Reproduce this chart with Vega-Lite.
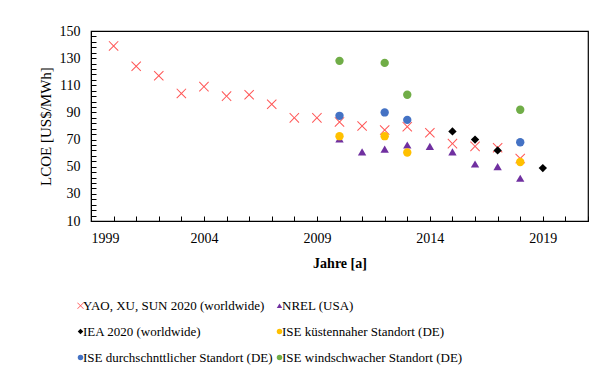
{
  "$schema": "https://vega.github.io/schema/vega-lite/v6.json",
  "autosize": {"type": "none"},
  "padding": {"left": 91, "top": 31, "right": 21, "bottom": 153},
  "width": 497,
  "height": 190,
  "background": "white",
  "config": {
    "view": {"stroke": "black", "strokeWidth": 1.2},
    "font": "Liberation Serif",
    "axis": {
      "labelFont": "Liberation Serif",
      "labelFontSize": 14,
      "labelColor": "black",
      "titleFont": "Liberation Serif",
      "titleColor": "black",
      "domainColor": "black",
      "tickColor": "black",
      "grid": false
    },
    "legend": {
      "labelFont": "Liberation Serif",
      "labelFontSize": 13,
      "labelColor": "black"
    }
  },
  "data": {
    "values": [
      {"series": "YAO, XU, SUN 2020 (worldwide)", "year": 2000, "lcoe": 139},
      {"series": "YAO, XU, SUN 2020 (worldwide)", "year": 2001, "lcoe": 124},
      {"series": "YAO, XU, SUN 2020 (worldwide)", "year": 2002, "lcoe": 117},
      {"series": "YAO, XU, SUN 2020 (worldwide)", "year": 2003, "lcoe": 104},
      {"series": "YAO, XU, SUN 2020 (worldwide)", "year": 2004, "lcoe": 109},
      {"series": "YAO, XU, SUN 2020 (worldwide)", "year": 2005, "lcoe": 102},
      {"series": "YAO, XU, SUN 2020 (worldwide)", "year": 2006, "lcoe": 103},
      {"series": "YAO, XU, SUN 2020 (worldwide)", "year": 2007, "lcoe": 96},
      {"series": "YAO, XU, SUN 2020 (worldwide)", "year": 2008, "lcoe": 86},
      {"series": "YAO, XU, SUN 2020 (worldwide)", "year": 2009, "lcoe": 86},
      {"series": "YAO, XU, SUN 2020 (worldwide)", "year": 2010, "lcoe": 83},
      {"series": "YAO, XU, SUN 2020 (worldwide)", "year": 2011, "lcoe": 80},
      {"series": "YAO, XU, SUN 2020 (worldwide)", "year": 2012, "lcoe": 77},
      {"series": "YAO, XU, SUN 2020 (worldwide)", "year": 2013, "lcoe": 79.5},
      {"series": "YAO, XU, SUN 2020 (worldwide)", "year": 2014, "lcoe": 75},
      {"series": "YAO, XU, SUN 2020 (worldwide)", "year": 2015, "lcoe": 67},
      {"series": "YAO, XU, SUN 2020 (worldwide)", "year": 2016, "lcoe": 65},
      {"series": "YAO, XU, SUN 2020 (worldwide)", "year": 2017, "lcoe": 64},
      {"series": "YAO, XU, SUN 2020 (worldwide)", "year": 2018, "lcoe": 56},
      {"series": "NREL (USA)", "year": 2010, "lcoe": 70.5},
      {"series": "NREL (USA)", "year": 2011, "lcoe": 61},
      {"series": "NREL (USA)", "year": 2012, "lcoe": 63},
      {"series": "NREL (USA)", "year": 2013, "lcoe": 66},
      {"series": "NREL (USA)", "year": 2014, "lcoe": 65},
      {"series": "NREL (USA)", "year": 2015, "lcoe": 61},
      {"series": "NREL (USA)", "year": 2016, "lcoe": 52},
      {"series": "NREL (USA)", "year": 2017, "lcoe": 50},
      {"series": "NREL (USA)", "year": 2018, "lcoe": 41.5},
      {"series": "IEA 2020 (worldwide)", "year": 2015, "lcoe": 76},
      {"series": "IEA 2020 (worldwide)", "year": 2016, "lcoe": 70},
      {"series": "IEA 2020 (worldwide)", "year": 2017, "lcoe": 62},
      {"series": "IEA 2020 (worldwide)", "year": 2019, "lcoe": 49},
      {"series": "ISE küstennaher Standort (DE)", "year": 2010, "lcoe": 72.5},
      {"series": "ISE küstennaher Standort (DE)", "year": 2012, "lcoe": 72.5},
      {"series": "ISE küstennaher Standort (DE)", "year": 2013, "lcoe": 60.5},
      {"series": "ISE küstennaher Standort (DE)", "year": 2018, "lcoe": 53.5},
      {"series": "ISE durchschnttlicher Standort (DE)", "year": 2010, "lcoe": 87.5},
      {"series": "ISE durchschnttlicher Standort (DE)", "year": 2012, "lcoe": 90},
      {"series": "ISE durchschnttlicher Standort (DE)", "year": 2013, "lcoe": 84.5},
      {"series": "ISE durchschnttlicher Standort (DE)", "year": 2018, "lcoe": 68},
      {"series": "ISE windschwacher Standort (DE)", "year": 2010, "lcoe": 128},
      {"series": "ISE windschwacher Standort (DE)", "year": 2012, "lcoe": 126.5},
      {"series": "ISE windschwacher Standort (DE)", "year": 2013, "lcoe": 103},
      {"series": "ISE windschwacher Standort (DE)", "year": 2018, "lcoe": 92}
    ]
  },
  "mark": {"type": "point", "filled": true, "opacity": 1, "strokeWidth": 0, "size": 70},
  "encoding": {
    "x": {
      "field": "year", "type": "quantitative",
      "scale": {"domain": [1999, 2021], "nice": false, "zero": false},
      "axis": {
        "title": "Jahre [a]",
        "titleFontSize": 14,
        "titleFontWeight": "bold",
        "titlePadding": 11,
        "values": [1999,2000,2001,2002,2003,2004,2005,2006,2007,2008,2009,2010,2011,2012,2013,2014,2015,2016,2017,2018,2019,2020,2021],
        "labelExpr": "datum.value % 5 == 4 ? datum.value + '' : ''",
        "tickSize": -5,
        "labelPadding": 15
      }
    },
    "y": {
      "field": "lcoe", "type": "quantitative",
      "scale": {"domain": [10, 150], "nice": false, "zero": false},
      "axis": {
        "title": "LCOE  [US$/MWh]",
        "titleFontSize": 15,
        "titleFontWeight": "normal",
        "titlePadding": 6,
        "values": [10,14,18,22,26,30,34,38,42,46,50,54,58,62,66,70,74,78,82,86,90,94,98,102,106,110,114,118,122,126,130,134,138,142,146,150],
        "labelExpr": "(datum.value - 10) % 20 == 0 ? datum.value + '' : ''",
        "tickSize": -5,
        "labelPadding": 16
      }
    },
    "color": {
      "field": "series", "type": "nominal",
      "scale": {
        "domain": ["YAO, XU, SUN 2020 (worldwide)", "IEA 2020 (worldwide)", "ISE durchschnttlicher Standort (DE)", "NREL (USA)", "ISE küstennaher Standort (DE)", "ISE windschwacher Standort (DE)"],
        "range": ["#ff5757", "#000000", "#4472c4", "#7030a0", "#ffc000", "#70ad47"]
      },
      "legend": {
        "title": null,
        "orient": "none",
        "legendX": -17,
        "legendY": 268,
        "columns": 2,
        "columnPadding": -4,
        "rowPadding": 12,
        "padding": 0,
        "symbolSize": 30,
        "symbolStrokeWidth": 0,
        "labelFont": "Liberation Serif",
        "labelFontSize": 13,
        "labelColor": "black",
        "labelOffset": -4,
        "labelLimit": 400
      }
    },
    "shape": {
      "field": "series", "type": "nominal",
      "scale": {
        "domain": ["YAO, XU, SUN 2020 (worldwide)", "IEA 2020 (worldwide)", "ISE durchschnttlicher Standort (DE)", "NREL (USA)", "ISE küstennaher Standort (DE)", "ISE windschwacher Standort (DE)"],
        "range": ["M-1.2,-1.03L-1.03,-1.2L0,-0.17L1.03,-1.2L1.2,-1.03L0.17,0L1.2,1.03L1.03,1.2L0,0.17L-1.03,1.2L-1.2,1.03L-0.17,0Z", "diamond", "circle", "triangle-up", "circle", "circle"]
      }
    }
  }
}
